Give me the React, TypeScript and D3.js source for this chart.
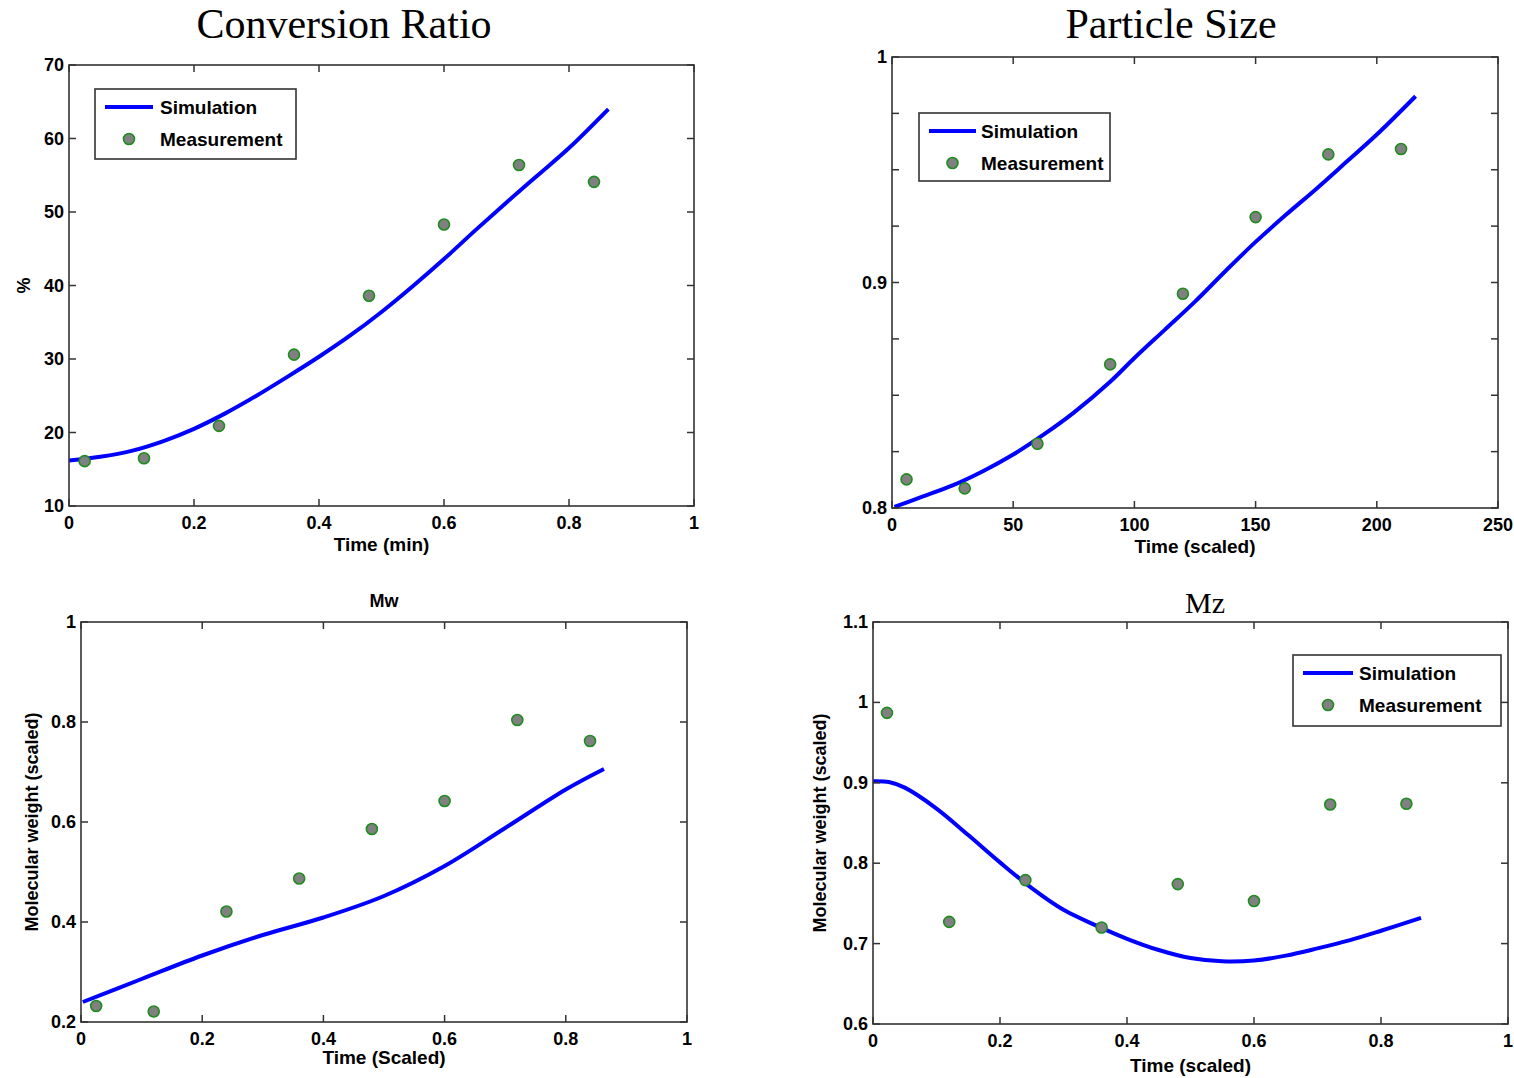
import * as d3 from 'd3';
import React from 'react';

// ---- data ----
const convMeasT = [0.025, 0.12, 0.24, 0.36, 0.48, 0.6, 0.72, 0.84];
const convMeasY = [16.1, 16.5, 20.9, 30.6, 38.6, 48.3, 56.4, 54.1];
const convSimT = [0, 0.05, 0.1, 0.15, 0.2, 0.25, 0.3, 0.35, 0.4, 0.45, 0.5, 0.55, 0.6, 0.65, 0.7, 0.75, 0.8, 0.863];
const convSimY = [16.2, 16.7, 17.5, 18.8, 20.5, 22.6, 25.0, 27.6, 30.3, 33.2, 36.4, 39.9, 43.6, 47.5, 51.3, 55.0, 58.7, 64.0];

const sizeMeasT = [6, 30, 60, 90, 120, 150, 180, 210];
const sizeMeasY = [0.8127, 0.8087, 0.8285, 0.8637, 0.895, 0.929, 0.9568, 0.9592];
const sizeSimT = [1, 12.5, 25, 37.5, 50, 62.5, 75, 90, 100, 112.5, 125, 137.5, 150, 162.5, 175, 187.5, 200, 216];
const sizeSimY = [0.8005, 0.805, 0.810, 0.8163, 0.8237, 0.8325, 0.8423, 0.856, 0.8665, 0.879, 0.8915, 0.905, 0.918, 0.930, 0.9415, 0.9535, 0.9656, 0.9826];

const mwMeasT = [0.025, 0.12, 0.24, 0.36, 0.48, 0.6, 0.72, 0.84];
const mwMeasY = [0.232, 0.221, 0.421, 0.487, 0.586, 0.642, 0.804, 0.762];
const mwSimT = [0.003, 0.1, 0.2, 0.3, 0.4, 0.5, 0.6, 0.7, 0.8, 0.863];
const mwSimY = [0.24, 0.286, 0.333, 0.374, 0.409, 0.452, 0.512, 0.588, 0.665, 0.706];

const mzMeasT = [0.022, 0.12, 0.24, 0.36, 0.48, 0.6, 0.72, 0.84];
const mzMeasY = [0.987, 0.727, 0.779, 0.72, 0.774, 0.753, 0.873, 0.874];
const mzSimT = [0, 0.025, 0.05, 0.1, 0.15, 0.2, 0.25, 0.3, 0.35, 0.4, 0.45, 0.5, 0.55, 0.6, 0.65, 0.7, 0.75, 0.8, 0.863];
const mzSimY = [0.902, 0.901, 0.894, 0.868, 0.835, 0.801, 0.769, 0.742, 0.723, 0.706, 0.692, 0.682, 0.678, 0.679, 0.685, 0.694, 0.704, 0.716, 0.732];

const unitTicks = [0, 0.2, 0.4, 0.6, 0.8, 1];
const convYTicks = [10, 20, 30, 40, 50, 60, 70];
const sizeXTicks = [0, 50, 100, 150, 200, 250];
const sizeYTicks = [0.8, 0.825, 0.85, 0.875, 0.9, 0.925, 0.95, 0.975, 1];
const sizeYLabels = [0.8, 0.9, 1];
const mwYTicks = [0.2, 0.4, 0.6, 0.8, 1];
const mzYTicks = [0.6, 0.7, 0.8, 0.9, 1, 1.1];

const SANS = "'Liberation Sans', Arial, Helvetica, sans-serif";
const SERIF = "'Liberation Serif', 'Times New Roman', Times, serif";
const AXIS = '#333';

const zip = (a, b) => a.map((v, i) => [v, b[i]]);
const fmt = (v) => String(+v.toFixed(3));

const panels = [
  {
    key: 'conv', left: 69, right: 694, top: 65, bottom: 506,
    xDomain: [0, 1], yDomain: [10, 70], xTicks: unitTicks, yTicks: convYTicks, yLabels: convYTicks,
    title: { text: 'Conversion Ratio', x: 344, y: 38, font: SERIF, size: 42, weight: 'normal' },
    xLabel: { text: 'Time (min)', dy: 45 },
    yLabel: { text: '%', x: 24 },
    legend: { dx: 26, dy: 24, w: 201, h: 70, line: 48, text: 65 },
    sim: zip(convSimT, convSimY), meas: zip(convMeasT, convMeasY),
  },
  {
    key: 'size', left: 892, right: 1498, top: 57, bottom: 508,
    xDomain: [0, 250], yDomain: [0.8, 1], xTicks: sizeXTicks, yTicks: sizeYTicks, yLabels: sizeYLabels,
    title: { text: 'Particle Size', x: 1171, y: 38, font: SERIF, size: 42, weight: 'normal' },
    xLabel: { text: 'Time (scaled)', dy: 45 },
    yLabel: null,
    legend: { dx: 27, dy: 56, w: 191, h: 68, line: 47, text: 62 },
    sim: zip(sizeSimT, sizeSimY), meas: zip(sizeMeasT, sizeMeasY),
  },
  {
    key: 'mw', left: 81, right: 687, top: 622, bottom: 1022,
    xDomain: [0, 1], yDomain: [0.2, 1], xTicks: unitTicks, yTicks: mwYTicks, yLabels: mwYTicks,
    title: { text: 'Mw', x: 384, y: 607, font: SANS, size: 18, weight: 'bold' },
    xLabel: { text: 'Time (Scaled)', dy: 42 },
    yLabel: { text: 'Molecular weight (scaled)', x: 32 },
    legend: null,
    sim: zip(mwSimT, mwSimY), meas: zip(mwMeasT, mwMeasY),
  },
  {
    key: 'mz', left: 873, right: 1508, top: 622, bottom: 1024,
    xDomain: [0, 1], yDomain: [0.6, 1.1], xTicks: unitTicks, yTicks: mzYTicks, yLabels: mzYTicks,
    title: { text: 'Mz', x: 1205, y: 613, font: SERIF, size: 30, weight: 'normal' },
    xLabel: { text: 'Time (scaled)', dy: 48 },
    yLabel: { text: 'Molecular weight (scaled)', x: 820 },
    legend: { dx: 420, dy: 33, w: 208, h: 71, line: 50, text: 66 },
    sim: zip(mzSimT, mzSimY), meas: zip(mzMeasT, mzMeasY),
  },
];

function Marker({ cx, cy }) {
  return <circle cx={cx} cy={cy} r={5.5} fill="#808080" stroke="#1e8c1e" strokeWidth={1.6} />;
}

function Panel({ p }) {
  const x = d3.scaleLinear().domain(p.xDomain).range([p.left, p.right]);
  const y = d3.scaleLinear().domain(p.yDomain).range([p.bottom, p.top]);
  const line = d3.line().x((d) => x(d[0])).y((d) => y(d[1])).curve(d3.curveCatmullRom.alpha(0.5));
  const tl = 7;
  const midY = (p.top + p.bottom) / 2;
  const midX = (p.left + p.right) / 2;
  const lg = p.legend;

  return (
    <g>
      <text x={p.title.x} y={p.title.y} textAnchor="middle" fontFamily={p.title.font}
        fontSize={p.title.size} fontWeight={p.title.weight}>{p.title.text}</text>

      <path d={line(p.sim)} fill="none" stroke="#0000ff" strokeWidth={4} />
      {p.meas.map((d, i) => <Marker key={i} cx={x(d[0])} cy={y(d[1])} />)}

      <rect x={p.left} y={p.top} width={p.right - p.left} height={p.bottom - p.top}
        fill="none" stroke={AXIS} strokeWidth={1.6} />

      {p.xTicks.map((t) => (
        <g key={'x' + t}>
          <line x1={x(t)} x2={x(t)} y1={p.bottom} y2={p.bottom - tl} stroke={AXIS} strokeWidth={1.5} />
          <line x1={x(t)} x2={x(t)} y1={p.top} y2={p.top + tl} stroke={AXIS} strokeWidth={1.5} />
          <text x={x(t)} y={p.bottom + 23} textAnchor="middle" fontFamily={SANS} fontSize={18}
            fontWeight="bold">{fmt(t)}</text>
        </g>
      ))}
      {p.yTicks.map((t) => (
        <g key={'y' + t}>
          <line x1={p.left} x2={p.left + tl} y1={y(t)} y2={y(t)} stroke={AXIS} strokeWidth={1.5} />
          <line x1={p.right} x2={p.right - tl} y1={y(t)} y2={y(t)} stroke={AXIS} strokeWidth={1.5} />
        </g>
      ))}
      {p.yLabels.map((t) => (
        <text key={'yl' + t} x={p.left - 5} y={y(t) + 6} textAnchor="end" fontFamily={SANS}
          fontSize={18} fontWeight="bold">{fmt(t)}</text>
      ))}

      <text x={midX} y={p.bottom + p.xLabel.dy} textAnchor="middle" fontFamily={SANS} fontSize={19}
        fontWeight="bold">{p.xLabel.text}</text>
      {p.yLabel && (
        <text transform={`translate(${p.yLabel.x},${midY}) rotate(-90)`} textAnchor="middle"
          dominantBaseline="central" fontFamily={SANS} fontSize={18} fontWeight="bold">{p.yLabel.text}</text>
      )}

      {lg && (
        <g transform={`translate(${p.left + lg.dx},${p.top + lg.dy})`}>
          <rect x={0} y={0} width={lg.w} height={lg.h} fill="#fff" stroke={AXIS} strokeWidth={1.6} />
          <line x1={10} x2={10 + lg.line} y1={18} y2={18} stroke="#0000ff" strokeWidth={4} />
          <Marker cx={10 + lg.line / 2} cy={50} />
          <text x={lg.text} y={25} fontFamily={SANS} fontSize={19} fontWeight="bold">Simulation</text>
          <text x={lg.text} y={57} fontFamily={SANS} fontSize={19} fontWeight="bold">Measurement</text>
        </g>
      )}
    </g>
  );
}

export default function App() {
  return (
    <div style={{ position: 'absolute', left: 0, top: 0 }}>
      <svg width={1514} height={1078} style={{ display: 'block', background: '#fff' }}>
        {panels.map((p) => <Panel key={p.key} p={p} />)}
      </svg>
    </div>
  );
}
